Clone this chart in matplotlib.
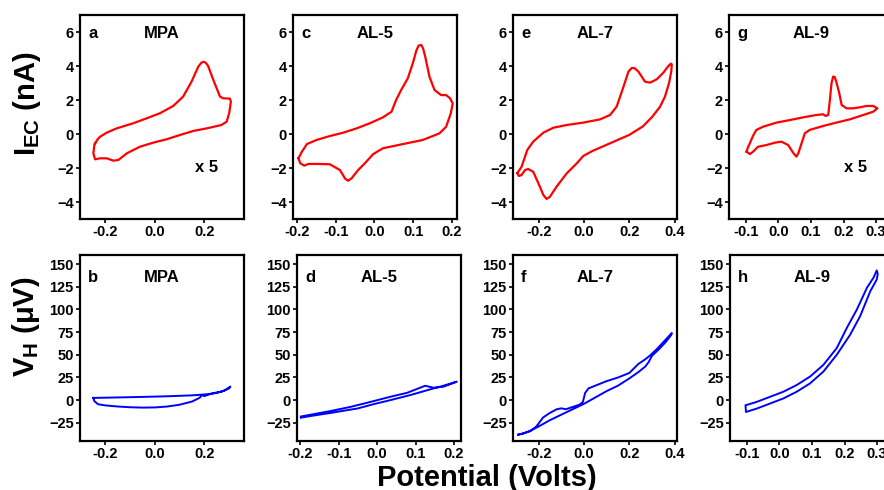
import matplotlib
matplotlib.use("Agg")
import matplotlib.pyplot as plt

plt.rcParams['font.family'] = ['Liberation Sans', 'DejaVu Sans']
plt.rcParams['font.weight'] = 'bold'
plt.rcParams['mathtext.fontset'] = 'custom'
plt.rcParams['mathtext.rm'] = 'Liberation Sans:bold'
plt.rcParams['mathtext.bf'] = 'Liberation Sans:bold'

# electrochemical current, cyclic voltammograms (nA)
mpa_v = [-0.242, -0.232, -0.222, -0.195, -0.155, -0.088, -0.034, 0.020, 0.074, 0.114, 0.148,
         0.175, 0.188, 0.198, 0.206, 0.215, 0.236, 0.263, 0.276, 0.303, 0.307, 0.300, 0.290,
         0.269, 0.209, 0.155, 0.101, 0.047, -0.007, -0.061, -0.114, -0.148, -0.168, -0.195,
         -0.222, -0.242, -0.249, -0.245, -0.242]
mpa_i = [-0.55, -0.32, -0.16, 0.08, 0.33, 0.63, 0.92, 1.22, 1.65, 2.20, 3.08,
         3.96, 4.20, 4.25, 4.18, 4.00, 3.18, 2.20, 2.10, 2.08, 1.90, 1.22, 0.73,
         0.53, 0.33, 0.18, -0.06, -0.31, -0.51, -0.75, -1.14, -1.53, -1.57, -1.43,
         -1.43, -1.49, -1.14, -0.65, -0.55]

al5_v = [-0.196, -0.187, -0.174, -0.149, -0.115, -0.080, -0.046, -0.012, 0.022, 0.044,
         0.056, 0.069, 0.086, 0.099, 0.108, 0.114, 0.121, 0.126, 0.131, 0.142, 0.155, 0.172,
         0.185, 0.195, 0.202, 0.197, 0.185, 0.168, 0.125, 0.074, 0.022, -0.003, -0.025,
         -0.042, -0.059, -0.068, -0.076, -0.089, -0.115, -0.149, -0.170, -0.181,
         -0.191, -0.196]
al5_i = [-1.43, -1.04, -0.59, -0.35, -0.12, 0.08, 0.33, 0.63, 0.98, 1.31,
         2.00, 2.59, 3.27, 4.16, 4.90, 5.20, 5.24, 5.00, 4.55, 3.37, 2.59, 2.29,
         2.29, 2.10, 1.80, 1.22, 0.43, 0.04, -0.35, -0.59, -0.84, -1.18, -1.73,
         -2.12, -2.61, -2.75, -2.61, -2.12, -1.78, -1.76, -1.76, -1.86,
         -1.73, -1.43]

al7_v = [-0.294, -0.275, -0.250, -0.224, -0.179, -0.135, -0.076, -0.003, 0.071, 0.115,
         0.144, 0.174, 0.196, 0.210, 0.222, 0.240, 0.269, 0.291, 0.321, 0.350, 0.372, 0.383,
         0.387, 0.385, 0.375, 0.357, 0.335, 0.300, 0.260, 0.200, 0.140, 0.080, 0.040, -0.003,
         -0.032, -0.076, -0.121, -0.150, -0.165, -0.179, -0.201, -0.224, -0.246,
         -0.260, -0.275, -0.287, -0.294]
al7_i = [-2.31, -1.92, -0.94, -0.45, 0.08, 0.37, 0.53, 0.67, 0.86, 1.12,
         1.61, 2.78, 3.67, 3.88, 3.88, 3.67, 3.08, 3.02, 3.22, 3.61, 4.00, 4.14,
         4.10, 3.70, 3.00, 2.20, 1.60, 1.00, 0.45, -0.05, -0.40, -0.75, -0.98, -1.29,
         -1.73, -2.31, -3.10, -3.69, -3.82, -3.59, -2.90, -2.22, -2.06,
         -2.12, -2.41, -2.47, -2.31]

al9_v = [-0.098, -0.094, -0.088, -0.078, -0.068, -0.047, -0.006, 0.035, 0.076, 0.117,
         0.137, 0.145, 0.153, 0.158, 0.163, 0.168, 0.173, 0.178, 0.187, 0.194, 0.209,
         0.230, 0.250, 0.271, 0.291, 0.304, 0.291, 0.261, 0.219, 0.178, 0.137, 0.096,
         0.081, 0.071, 0.061, 0.055, 0.045, 0.030, 0.009, -0.011, -0.037, -0.063, -0.078,
         -0.088, -0.098]
al9_i = [-1.04, -0.80, -0.55, -0.10, 0.24, 0.43, 0.67, 0.82, 0.98, 1.12,
         1.16, 1.06, 1.12, 2.00, 2.98, 3.38, 3.35, 3.05, 2.39, 1.71, 1.51,
         1.51, 1.57, 1.65, 1.65, 1.51, 1.31, 1.12, 0.86, 0.67, 0.47, 0.24,
         0.04, -0.55, -1.14, -1.33, -1.10, -0.65, -0.45, -0.51, -0.65, -0.75, -1.04,
         -1.18, -1.04]

# Hall voltage over the same sweeps (uV)
mpa_hv = [-0.249, -0.15, -0.05, 0.05, 0.15, 0.21, 0.25, 0.28, 0.305, 0.30, 0.27, 0.24,
          0.215, 0.20, 0.19, 0.18, 0.15, 0.10, 0.05, 0.0, -0.05, -0.10, -0.15, -0.20,
          -0.23, -0.245, -0.249]
mpa_h = [2.5, 3.0, 3.6, 4.3, 5.3, 6.5, 8.0, 10.5, 15.0, 13.0, 9.5, 8.0,
         6.0, 4.5, 5.5, 2.5, -1.5, -5.0, -7.0, -8.0, -8.2, -7.8, -7.0, -5.8,
         -4.5, -1.0, 2.5]

al5_hv = [-0.198, -0.121, -0.069, -0.017, 0.034, 0.078, 0.125, 0.147, 0.172, 0.207,
          0.172, 0.138, 0.086, 0.034, -0.009, -0.052, -0.069, -0.121, -0.172, -0.198]
al5_h = [-18.0, -12.0, -7.4, -1.9, 3.7, 8.1, 15.9, 13.7, 14.8, 20.4,
         15.9, 11.9, 5.6, 0.0, -4.4, -9.3, -10.4, -14.1, -17.4, -19.3]

al7_hv = [-0.29, -0.26, -0.235, -0.21, -0.18, -0.15, -0.12, -0.10, -0.08, -0.05, -0.02,
          -0.005, 0.005, 0.02, 0.06, 0.10, 0.15, 0.20, 0.24, 0.27, 0.29, 0.32, 0.35, 0.387,
          0.385, 0.36, 0.33, 0.30, 0.285, 0.27, 0.24, 0.20, 0.15, 0.10, 0.05, 0.0,
          -0.05, -0.10, -0.15, -0.20, -0.24, -0.27, -0.29]
al7_h = [-38, -36, -34, -29, -19, -14, -10, -9, -10, -7.5, -5,
         -2, 8, 13, 17, 21, 25, 30, 40, 45, 49, 56, 64, 74,
         72, 64, 56, 49, 42, 37, 31, 24, 16, 10, 3, -4,
         -10, -16, -22, -29, -34, -37, -38]

al9_hv = [-0.104, -0.070, -0.029, 0.012, 0.053, 0.094, 0.135, 0.176, 0.207, 0.238, 0.269,
          0.289, 0.299, 0.302, 0.299, 0.279, 0.248, 0.217, 0.176, 0.135, 0.094, 0.053,
          0.012, -0.029, -0.070, -0.103, -0.104]
al9_h = [-5.6, -1.9, 3.7, 9.3, 16.7, 26.0, 38.9, 57.4, 79.6, 100.0, 124.0,
         135.0, 143.0, 139.0, 133.0, 120.0, 92.6, 72.0, 50.0, 31.5, 18.5, 9.3,
         1.9, -3.7, -9.3, -13.0, -7.4]

names = ['MPA', 'AL-5', 'AL-7', 'AL-9']
top_letters = ['a', 'c', 'e', 'g']
bottom_letters = ['b', 'd', 'f', 'h']
cv_curves = [(mpa_v, mpa_i), (al5_v, al5_i), (al7_v, al7_i), (al9_v, al9_i)]
hall_curves = [(mpa_hv, mpa_h), (al5_hv, al5_h), (al7_hv, al7_h), (al9_hv, al9_h)]
xticks = [[-0.2, 0.0, 0.2], [-0.2, -0.1, 0.0, 0.1, 0.2],
          [-0.2, 0.0, 0.2, 0.4], [-0.1, 0.0, 0.1, 0.2, 0.3]]
top_xlims = [(-0.303, 0.36), (-0.21, 0.213), (-0.313, 0.41), (-0.152, 0.352)]
bot_xlims = [(-0.303, 0.36), (-0.208, 0.218), (-0.313, 0.41), (-0.152, 0.352)]
scaled = ['x 5', None, None, 'x 5']

W, H = 884, 490
fig = plt.figure(figsize=(W / 100, H / 100), dpi=100)

top_left = [80, 293, 513, 729]
bot_left = [80, 297, 513, 730]
pw = 164


def style(ax):
    for s in ax.spines.values():
        s.set_linewidth(1.6)
    ax.tick_params(direction='out', length=3, width=1.2, pad=1.5, labelsize=10.5)
    for lab in ax.get_xticklabels() + ax.get_yticklabels():
        lab.set_fontweight('bold')


for k in range(4):
    # top row: current
    ax = fig.add_axes([top_left[k] / W, 1 - 219 / H, pw / W, 204 / H])
    ax.plot(cv_curves[k][0], cv_curves[k][1], color='#ff0000', lw=1.6)
    ax.set_xlim(*top_xlims[k])
    ax.set_ylim(-5, 7)
    ax.set_yticks([-4, -2, 0, 2, 4, 6])
    ax.set_xticks(xticks[k])
    ax.set_xticklabels(['%.1f' % t for t in xticks[k]])
    style(ax)
    ax.text(0.05, 0.885, top_letters[k], transform=ax.transAxes, fontsize=12,
            fontweight='bold', va='baseline')
    ax.text(0.5, 0.885, names[k], transform=ax.transAxes, fontsize=12,
            fontweight='bold', va='baseline', ha='center')
    if scaled[k]:
        ax.text(0.70, 0.23, scaled[k], transform=ax.transAxes, fontsize=12,
                fontweight='bold', va='baseline')

    # bottom row: Hall voltage
    ax = fig.add_axes([bot_left[k] / W, 1 - 441 / H, pw / W, 186 / H])
    ax.plot(hall_curves[k][0], hall_curves[k][1], color='#0000ff', lw=1.4)
    ax.set_xlim(*bot_xlims[k])
    ax.set_ylim(-45, 160)
    ax.set_yticks([-25, 0, 25, 50, 75, 100, 125, 150])
    ax.set_xticks(xticks[k])
    ax.set_xticklabels(['%.1f' % t for t in xticks[k]])
    style(ax)
    ax.text(0.05, 0.855, bottom_letters[k], transform=ax.transAxes, fontsize=12,
            fontweight='bold', va='baseline')
    ax.text(0.5, 0.855, names[k], transform=ax.transAxes, fontsize=12,
            fontweight='bold', va='baseline', ha='center')

fig.text(27 / W, 1 - 104 / H, r'I$_{\mathbf{EC}}$ (nA)', rotation=90, fontsize=21,
         fontweight='bold', ha='center', va='center')
fig.text(26 / W, 1 - 327 / H, r'V$_{\mathbf{H}}$ (μV)', rotation=90, fontsize=21,
         fontweight='bold', ha='center', va='center')
fig.text(487 / W, 1 - 486 / H, 'Potential (Volts)', fontsize=21, fontweight='bold',
         ha='center', va='baseline')

fig.savefig('out.png', dpi=100)
